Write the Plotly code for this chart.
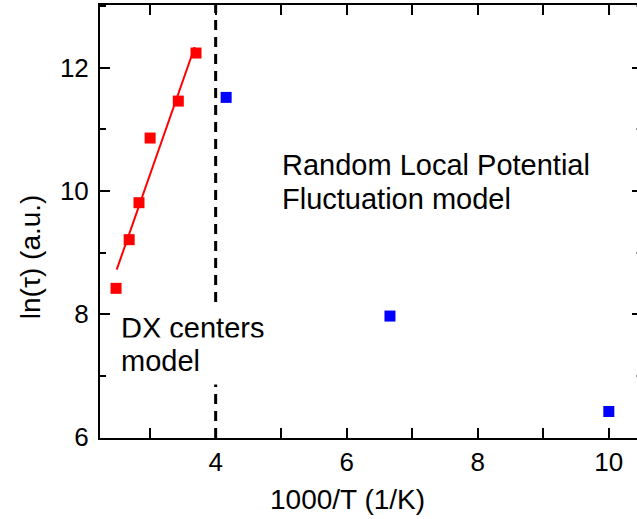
import numpy as np
import plotly.graph_objects as go

# ln(tau) versus inverse temperature, 1000/T in 1/K
dx_inv_t = [2.48, 2.68, 2.83, 3.00, 3.43, 3.70]
dx_ln_tau = [8.42, 9.21, 9.81, 10.86, 11.46, 12.24]

rlpf_inv_t = [4.16, 6.66, 10.0]
rlpf_ln_tau = [11.52, 7.97, 6.42]

# span of the linear fit through the DX-centre points
fit_span = [2.49, 3.68]
# regime boundary between the two models
boundary_inv_t = 4.0

x_range = [2.235, 10.43]
y_range = [5.99, 13.02]

slope, intercept = np.polyfit(dx_inv_t, dx_ln_tau, 1)
fit_x = np.array(fit_span)
fit_y = slope * fit_x + intercept

FONT = "Liberation Sans, Arial, sans-serif"

fig = go.Figure()

fig.add_trace(go.Scatter(
    x=[boundary_inv_t, boundary_inv_t], y=y_range, mode="lines",
    line=dict(color="black", width=3, dash="10px,7px"), hoverinfo="skip"))

fig.add_trace(go.Scatter(
    x=fit_x, y=fit_y, mode="lines",
    line=dict(color="#ff0000", width=2), hoverinfo="skip"))

fig.add_trace(go.Scatter(
    x=dx_inv_t, y=dx_ln_tau, mode="markers",
    marker=dict(symbol="square", size=11, color="#ff0000", line=dict(width=0))))

fig.add_trace(go.Scatter(
    x=rlpf_inv_t, y=rlpf_ln_tau, mode="markers",
    marker=dict(symbol="square", size=11, color="#0000ff", line=dict(width=0))))

# empty trace that carries the right-hand tick axis
fig.add_trace(go.Scatter(x=[None], y=[None], yaxis="y2",
                         mode="markers", hoverinfo="skip"))

common = dict(showgrid=False, zeroline=False, ticks="inside",
              tickcolor="black", tickwidth=2, linewidth=2, linecolor="black",
              tick0=0, dtick=2)

fig.update_layout(
    width=637, height=519,
    margin=dict(l=100, r=0, t=5, b=81),
    paper_bgcolor="white", plot_bgcolor="white",
    showlegend=False,
    font=dict(family=FONT, color="black"),
    xaxis=dict(range=x_range, showline=True, mirror="allticks", ticklen=10,
               minor=dict(ticks="inside", ticklen=6, dtick=1, tick0=0,
                          tickcolor="black", tickwidth=2),
               tickfont=dict(size=26, family=FONT), **common),
    yaxis=dict(range=y_range, showline=True, ticklen=10,
               minor=dict(ticks="inside", ticklen=6, dtick=1, tick0=0,
                          tickcolor="black", tickwidth=2),
               tickfont=dict(size=26, family=FONT), ticklabelstandoff=4,
               **common),
    yaxis2=dict(range=y_range, overlaying="y", side="right", anchor="x",
                showline=False, showticklabels=False, ticklen=5,
                minor=dict(ticks="inside", ticklen=1, dtick=1, tick0=0,
                           tickcolor="#999999", tickwidth=2),
                **common),
)

ann_font = dict(family=FONT, size=29, color="black")

fig.add_annotation(text="ln(τ) (a.u.)", xref="paper", yref="paper",
                   x=-0.130, y=0.418, xanchor="center", yanchor="middle",
                   textangle=-90, showarrow=False,
                   font=dict(family=FONT, size=28, color="black"))
fig.add_annotation(text="1000/T (1/K)", xref="paper", yref="paper",
                   x=0.46, y=-0.143, xanchor="center", yanchor="middle",
                   showarrow=False,
                   font=dict(family=FONT, size=28, color="black"))

fig.add_annotation(text="Random Local Potential", xref="paper", yref="paper",
                   x=0.335, y=0.630, xanchor="left", yanchor="middle",
                   showarrow=False, font=ann_font)
fig.add_annotation(text="Fluctuation model", xref="paper", yref="paper",
                   x=0.335, y=0.553, xanchor="left", yanchor="middle",
                   showarrow=False, font=ann_font)

fig.add_annotation(text="DX centers", xref="paper", yref="paper",
                   x=0.035, y=0.253, xanchor="left", yanchor="middle",
                   width=150, height=40, align="left", bgcolor="white",
                   showarrow=False, font=ann_font)
fig.add_annotation(text="model", xref="paper", yref="paper",
                   x=0.035, y=0.178, xanchor="left", yanchor="middle",
                   width=150, height=44, align="left", bgcolor="white",
                   showarrow=False, font=ann_font)

fig.write_html("out.html")
